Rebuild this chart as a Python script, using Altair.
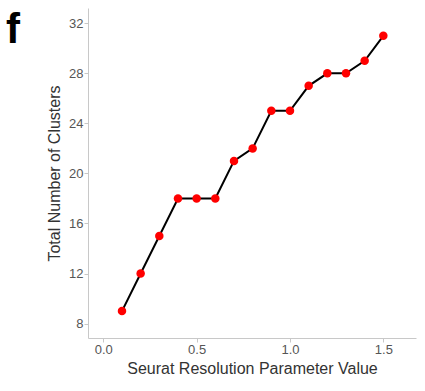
import altair as alt
import pandas as pd

resolution = [0.1, 0.2, 0.3, 0.4, 0.5, 0.6, 0.7, 0.8, 0.9, 1.0, 1.1, 1.2, 1.3, 1.4, 1.5]
clusters = [9, 12, 15, 18, 18, 18, 21, 22, 25, 25, 27, 28, 28, 29, 31]
y_ticks = [8, 12, 16, 20, 24, 28, 32]
x_ticks = [0.0, 0.5, 1.0, 1.5]

df = pd.DataFrame({"res": resolution, "n": clusters})

FONT = "Liberation Sans"

x = alt.X("res:Q", scale=alt.Scale(domain=[-0.082, 1.675], nice=False, zero=False),
          axis=alt.Axis(values=x_ticks, format=".1f", title="Seurat Resolution Parameter Value",
                        grid=False, domainColor="#c8c8c8", tickColor="#c8c8c8", tickSize=4,
                        labelColor="#555555", labelFontSize=13, labelFont=FONT,
                        titleFont=FONT, titleFontSize=16, titleFontWeight="normal",
                        titleColor="#333333", titlePadding=4, labelPadding=1))
y = alt.Y("n:Q", scale=alt.Scale(domain=[6.85, 33.22], nice=False, zero=False),
          axis=alt.Axis(values=y_ticks, title="Total Number of Clusters",
                        grid=False, domainColor="#c8c8c8", tickColor="#c8c8c8", tickSize=4,
                        labelColor="#555555", labelFontSize=13, labelFont=FONT,
                        titleFont=FONT, titleFontSize=16, titleFontWeight="normal",
                        titleColor="#333333", titlePadding=6, labelPadding=1))

base = alt.Chart(df)
line = base.mark_line(color="black", strokeWidth=2).encode(x=x, y=y)
pts = base.mark_circle(color="#ff0000", opacity=1, size=72).encode(x="res:Q", y="n:Q")
letter = alt.Chart(pd.DataFrame({"t": ["f"]})).mark_text(
    text="f", font=FONT, fontSize=42, fontWeight="bold", align="left", baseline="alphabetic",
    color="black").encode(x=alt.value(-82), y=alt.value(35))

chart = alt.layer(line, pts, letter).properties(
    width=328, height=330,
    autosize=alt.AutoSizeParams(type="none"),
    padding={"left": 88, "top": 8, "right": 9, "bottom": 53},
).configure_view(stroke=None)

chart.save("out.html", embed_options={"renderer": "svg", "actions": False})
